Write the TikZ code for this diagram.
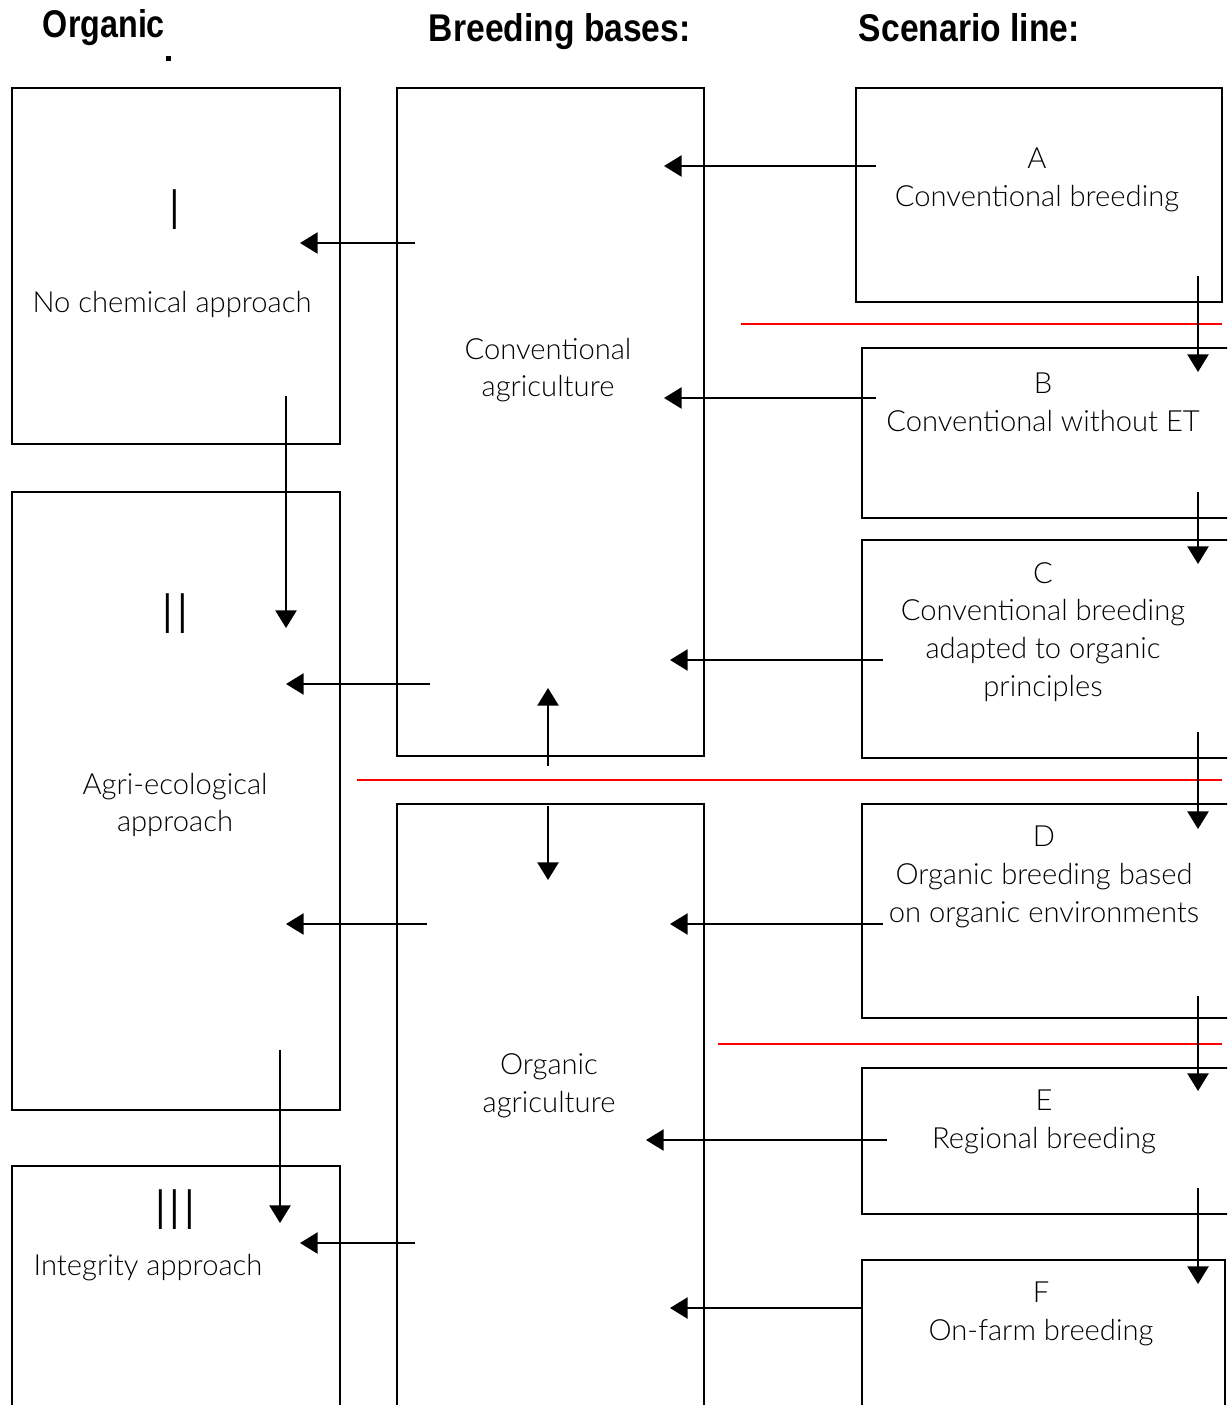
\documentclass[tikz,border=0pt]{standalone}
\usepackage{fontspec}
\setmainfont{Lato}[UprightFont=* Light]
\newfontfamily\headfont[FakeStretch=0.87]{Liberation Sans}
\usetikzlibrary{arrows.meta,fit}

\begin{document}
\begin{tikzpicture}[x=0.02cm,y=-0.02cm,>={Triangle[length=10pt,width=12pt]},
                    line width=1.1pt]
  \tikzstyle{box}=[draw,line width=1.1pt,inner sep=0pt]
  \tikzstyle{lbl}=[font=\fontsize{16.6}{21.5}\selectfont,align=center,inner sep=0pt]
  \tikzstyle{num}=[font=\fontsize{32}{32}\selectfont,inner sep=0pt]
  \tikzstyle{head}=[font=\headfont\bfseries\fontsize{22}{24}\selectfont,inner sep=0pt,anchor=base west]
  \tikzstyle{flow}=[->]
  \tikzstyle{split}=[red,line width=1pt]

  \clip (0,0) rectangle (1227,1405);

  % column heads
  \node[head,xscale=0.96] (horg) at (42,38) {Organic};
  \fill (166,56) rectangle (171,61);
  \node[head] (hbase) at (428,42) {Breeding bases:};
  \node[head] (hscen) at (858,42) {Scenario line:};

  % organic approaches
  \node[box,fit={(12,88) (340,444)}] (I) {};
  \node[box,fit={(12,492) (340,1110)}] (II) {};
  \node[box,fit={(12,1166) (340,1420)}] (III) {};
  \node[num] (nI) at (175,210) {I};
  \node[num] (nII) at (175,614) {II};
  \node[num] (nIII) at (175,1210) {III};
  \node[lbl] (tI) at (172,304) {No chemical approach};
  \node[lbl] (tII) at (175,805) {Agri-ecological\\approach};
  \node[lbl] (tIII) at (148,1268) {Integrity approach};

  % breeding bases
  \node[box,fit={(397,88) (704,756)}] (conv) {};
  \node[box,fit={(397,804) (704,1420)}] (org) {};
  \node[lbl] (tconv) at (548,370) {Conventional\\agriculture};
  \node[lbl] (torg) at (549,1086) {Organic\\agriculture};

  % scenario line
  \node[box,fit={(856,88) (1222,302)}] (A) {};
  \node[box,fit={(862,348) (1240,518)}] (B) {};
  \node[box,fit={(862,540) (1240,758)}] (C) {};
  \node[box,fit={(862,804) (1240,1018)}] (D) {};
  \node[box,fit={(862,1068) (1240,1214)}] (E) {};
  \node[box,fit={(862,1260) (1225,1420)}] (F) {};
  \node[lbl] (tA) at (1037,180) {A\\Conventional breeding};
  \node[lbl] (tB) at (1043,402) {B\\Conventional without ET};
  \node[lbl] (tC) at (1043,632) {C\\Conventional breeding\\adapted to organic\\principles};
  \node[lbl] (tD) at (1044,877) {D\\Organic breeding based\\on organic environments};
  \node[lbl] (tE) at (1044,1122) {E\\Regional breeding};
  \node[lbl] (tF) at (1041,1314) {F\\On-farm breeding};

  % red dividing lines
  \draw[split] (741,324) -- (1222,324);
  \draw[split] (357,780) -- (1222,780);
  \draw[split] (718,1044) -- (1222,1044);

  % arrow ends
  \coordinate (a0) at (876,166);  \coordinate (a1) at (664,166);
  \coordinate (b0) at (876,398);  \coordinate (b1) at (664,398);
  \coordinate (c0) at (883,660);  \coordinate (c1) at (670,660);
  \coordinate (d0) at (883,924);  \coordinate (d1) at (670,924);
  \coordinate (e0) at (887,1140); \coordinate (e1) at (646,1140);
  \coordinate (f0) at (862,1308); \coordinate (f1) at (670,1308);
  \coordinate (ab0) at (1198,276);  \coordinate (ab1) at (1198,372);
  \coordinate (bc0) at (1198,492);  \coordinate (bc1) at (1198,564);
  \coordinate (cd0) at (1198,732);  \coordinate (cd1) at (1198,829);
  \coordinate (de0) at (1198,996);  \coordinate (de1) at (1198,1091);
  \coordinate (ef0) at (1198,1188); \coordinate (ef1) at (1198,1284);
  \coordinate (ci0) at (415,243);  \coordinate (ci1) at (300,243);
  \coordinate (cii0) at (430,684); \coordinate (cii1) at (286,684);
  \coordinate (oii0) at (427,924); \coordinate (oii1) at (286,924);
  \coordinate (oiii0) at (415,1243); \coordinate (oiii1) at (300,1243);
  \coordinate (iii0) at (286,396); \coordinate (iii1) at (286,628);
  \coordinate (iiii0) at (280,1050); \coordinate (iiii1) at (280,1223);
  \coordinate (up0) at (548,766); \coordinate (up1) at (548,688);
  \coordinate (dn0) at (548,806); \coordinate (dn1) at (548,880);

  \path (a0) edge[flow] (a1)
        (b0) edge[flow] (b1)
        (c0) edge[flow] (c1)
        (d0) edge[flow] (d1)
        (e0) edge[flow] (e1)
        (f0) edge[flow] (f1)
        (ab0) edge[flow] (ab1)
        (bc0) edge[flow] (bc1)
        (cd0) edge[flow] (cd1)
        (de0) edge[flow] (de1)
        (ef0) edge[flow] (ef1)
        (ci0) edge[flow] (ci1)
        (cii0) edge[flow] (cii1)
        (oii0) edge[flow] (oii1)
        (oiii0) edge[flow] (oiii1)
        (iii0) edge[flow] (iii1)
        (iiii0) edge[flow] (iiii1)
        (up0) edge[flow] (up1)
        (dn0) edge[flow] (dn1);

\end{tikzpicture}
\end{document}
